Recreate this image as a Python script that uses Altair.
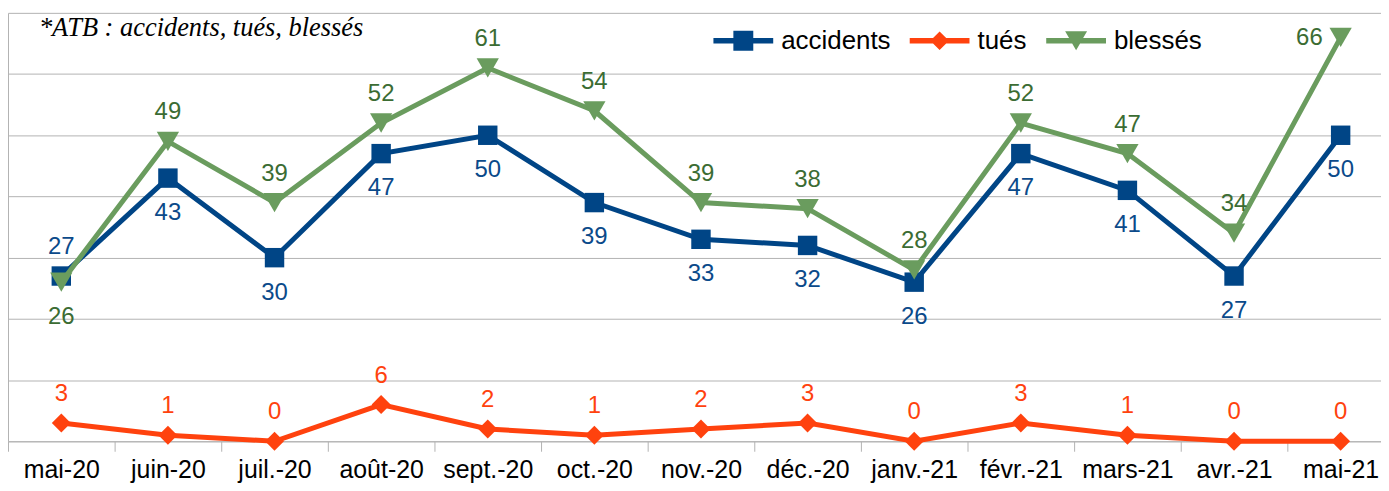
import altair as alt
import pandas as pd

MONTHS = ["mai-20", "juin-20", "juil.-20", "août-20", "sept.-20", "oct.-20", "nov.-20",
          "déc.-20", "janv.-21", "févr.-21", "mars-21", "avr.-21", "mai-21"]
ACCIDENTS = [27, 43, 30, 47, 50, 39, 33, 32, 26, 47, 41, 27, 50]
TUES = [3, 1, 0, 6, 2, 1, 2, 3, 0, 3, 1, 0, 0]
BLESSES = [26, 49, 39, 52, 61, 54, 39, 38, 28, 52, 47, 34, 66]
SERIES = ["accidents", "tués", "blessés"]
TITLE = "*ATB : accidents, tués, blessés"

LINE_COLORS = ["#004586", "#ff420e", "#6a9c5e"]
LABEL_COLORS = ["#0b4a8a", "#ff420e", "#3b6c33"]
SHAPES = ["square", "diamond", "triangle-down"]
SIZES = [380, 361, 500]
LEG_PATHS = [
    "M-1,-0.09H-0.333V-0.333H0.333V-0.09H1V0.09H0.333V0.333H-0.333V0.09H-1Z",
    "M-1,-0.09H-0.22L0,-0.31L0.22,-0.09H1V0.09H0.22L0,0.31L-0.22,0.09H-1Z",
    "M-1,-0.09H-0.235L-0.367,-0.32H0.367L0.235,-0.09H1V0.09H0.132L0,0.32L-0.132,0.09H-1Z",
]

GRID = "#b3b3b3"
FONT = "Liberation Sans"

rows = []
for s, vals in zip(SERIES, [ACCIDENTS, TUES, BLESSES]):
    n = len(vals)
    for i, (m, v) in enumerate(zip(MONTHS, vals)):
        if s == "tués":
            p = "above"
        elif s == "accidents":
            p = "above" if i == 0 else "below"
        else:
            p = "below" if i == 0 else ("left" if i == n - 1 else "above")
        rows.append({"month": m, "series": s, "value": v, "place": p})
df = pd.DataFrame(rows)

legend = alt.Legend(
    title=None, orient="none", legendX=708, legendY=-2, direction="horizontal",
    symbolSize=3600, labelFont=FONT, labelFontSize=26, labelColor="black",
    labelOffset=8, columnPadding=19, padding=0, symbolStrokeWidth=0, symbolOpacity=1,
)

x_enc = alt.X(
    "month:N", sort=MONTHS,
    scale=alt.Scale(type="band", domain=MONTHS, range=[0, 1391], paddingInner=0, paddingOuter=0),
    axis=alt.Axis(title=None, tickBand="extent", tickSize=10, tickColor=GRID, domainColor=GRID,
                  labelFont=FONT, labelFontSize=25, labelColor="black", labelPadding=6,
                  labelAngle=0, grid=False),
)
y_enc = alt.Y(
    "value:Q", scale=alt.Scale(domain=[0, 70], nice=False, zero=True),
    axis=alt.Axis(title=None, labels=False, ticks=False, grid=True, gridColor=GRID,
                  values=list(range(0, 71, 10)), domainColor=GRID),
)

base = alt.Chart(df)
layers = []
for k, s in enumerate(SERIES):
    layers.append(
        base.transform_filter(alt.datum.series == s)
        .mark_line(strokeWidth=5, color=LINE_COLORS[k],
                   point=alt.OverlayMarkDef(filled=True, shape=SHAPES[k], size=SIZES[k],
                                            opacity=1, strokeWidth=0, color=LINE_COLORS[k]))
        .encode(x=x_enc, y=y_enc)
    )

# legend-only layer (no rows drawn)
layers.append(
    base.transform_filter("false")
    .mark_point(filled=True, opacity=1)
    .encode(
        x=x_enc, y=y_enc,
        color=alt.Color("series:N", scale=alt.Scale(domain=SERIES, range=LINE_COLORS), legend=legend),
        shape=alt.Shape("series:N", scale=alt.Scale(domain=SERIES, range=LEG_PATHS), legend=legend),
    )
)

place_cfg = {
    "above": dict(align="center", baseline="alphabetic", dy=-22),
    "below": dict(align="center", baseline="alphabetic", dy=42),
    "left": dict(align="right", baseline="middle", dx=-18, dy=1),
}
for k, s in enumerate(SERIES):
    for p, cfg in place_cfg.items():
        sub = df[(df.series == s) & (df.place == p)]
        if sub.empty:
            continue
        layers.append(
            base.transform_filter((alt.datum.series == s) & (alt.datum.place == p))
            .mark_text(font=FONT, fontSize=24, color=LABEL_COLORS[k], **cfg)
            .encode(x=x_enc, y=y_enc, text="value:Q")
        )

chart = (
    alt.layer(*layers)
    .properties(
        width=1378, height=430,
        padding={"left": 0, "top": 4, "right": 0, "bottom": 41},
        autosize=alt.AutoSizeParams(type="none"),
        title=alt.TitleParams(TITLE, anchor="start", frame="group", orient="top", offset=-52,
                              dx=31, font="Liberation Serif", fontStyle="italic",
                              fontWeight="normal", fontSize=26.5, color="black",
                              baseline="alphabetic"),
    )
    .configure_view(strokeWidth=0)
)

chart.save("out.html", embed_options={"renderer": "svg", "actions": False})
